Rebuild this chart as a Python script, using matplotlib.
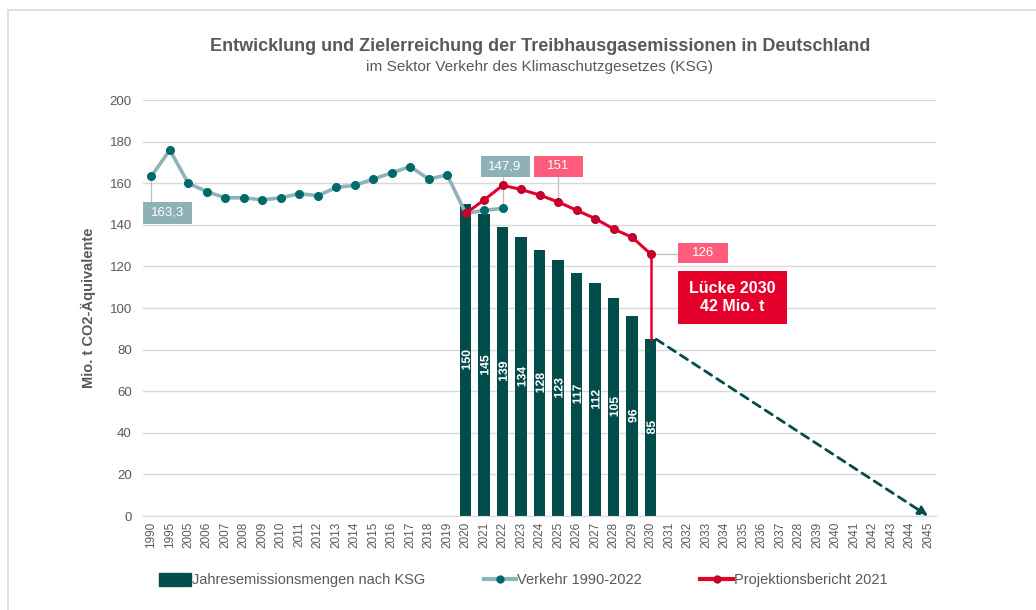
import matplotlib
matplotlib.use("Agg")
import matplotlib.pyplot as plt
import matplotlib.transforms as mtrans
from matplotlib.patches import Rectangle, Patch, PathPatch
from matplotlib.lines import Line2D
from matplotlib.textpath import TextPath
from matplotlib.font_manager import FontProperties

plt.rcParams['font.family'] = ['Liberation Sans', 'DejaVu Sans']

# ---- data ----
categories = ["1990", "1995"] + [str(y) for y in range(2005, 2038)] + ["2028"] + [str(y) for y in range(2039, 2046)]
bar_years = ["2020", "2021", "2022", "2023", "2024", "2025", "2026", "2027", "2028", "2029", "2030"]
bar_values = [150, 145, 139, 134, 128, 123, 117, 112, 105, 96, 85]
verkehr_years = ["1990", "1995", "2005", "2006", "2007", "2008", "2009", "2010", "2011", "2012",
                 "2013", "2014", "2015", "2016", "2017", "2018", "2019", "2020", "2021", "2022"]
verkehr_values = [163.3, 176, 160, 156, 153, 153, 152, 153, 155, 154,
                  158, 159, 162, 165, 168, 162, 164, 145.5, 147, 147.9]
proj_years = ["2020", "2021", "2022", "2023", "2024", "2025", "2026", "2027", "2028", "2029", "2030"]
proj_values = [145.5, 152, 159, 157, 154.3, 151, 147, 143, 138, 134, 126]
target_2045 = 0

def idx(year):
    return categories.index(year)

bar_x = list(range(idx("2020"), idx("2020") + len(bar_years)))
verk_x = [idx(y) for y in verkehr_years[:17]] + list(range(idx("2020"), idx("2020") + 3))
proj_x = list(range(idx("2020"), idx("2020") + len(proj_years)))
x2045 = len(categories) - 1

BAR = "#034c4c"
VLINE = "#8fb3b8"
VMARK = "#006a6a"
RED = "#e4002b"
RMARK = "#c4002c"
PINK = "#ff5c7c"
BOXTEAL = "#8eb1b6"
GRAY = "#595959"
GRID = "#d9d9d9"

fig = plt.figure(figsize=(10.36, 6.10), dpi=100)
ax = fig.add_axes([0.138, 0.154, 0.765, 0.682])

ax.set_xlim(-0.45, 42.4)
ax.set_ylim(0, 200)
ax.set_yticks(range(0, 201, 20))
ax.yaxis.grid(True, color=GRID, lw=1)
ax.set_axisbelow(True)
for s in ["top", "right", "left"]:
    ax.spines[s].set_visible(False)
ax.spines["bottom"].set_color(GRID)
ax.tick_params(axis="both", length=0, colors=GRAY)
ax.tick_params(axis="y", labelsize=9.5, pad=8)
ax.set_xticks(range(len(categories)))
ax.set_xticklabels(categories, rotation=90, fontsize=8.5)
ax.tick_params(axis="x", pad=4)

# bars
ax.bar(bar_x, bar_values, width=0.62, color=BAR, zorder=2)

# bar value labels as vector glyph paths (crisp rotated text)
label_prop = FontProperties(family="Liberation Sans", weight="bold")
for x, v in zip(bar_x, bar_values):
    tp = TextPath((0, 0), str(v), size=8.8, prop=label_prop)
    ext = tp.get_extents()
    cx, cy = (ext.x0 + ext.x1) / 2, (ext.y0 + ext.y1) / 2
    tr = (mtrans.Affine2D().translate(-cx, -cy).rotate_deg(90).scale(fig.dpi / 72)
          + mtrans.ScaledTranslation(x, v / 2, ax.transData))
    ax.add_patch(PathPatch(tp, transform=tr, facecolor="white", edgecolor="none", zorder=3))

# Verkehr line
ax.plot(verk_x, verkehr_values, color=VLINE, lw=2.6, zorder=4)
ax.plot(verk_x, verkehr_values, 'o', color=VMARK, ms=5.5, zorder=5)

# Projection line + vertical drop to 2030 target
ax.plot(proj_x, proj_values, color=RED, lw=2.2, zorder=6)
ax.plot([proj_x[-1], proj_x[-1]], [proj_values[-1], bar_values[-1]], color=RED, lw=1.8, zorder=6)
ax.plot(proj_x, proj_values, 'o', color=RMARK, ms=5.5, zorder=7)

# dashed arrow to 2045
ax.annotate("", xy=(x2045, target_2045), xytext=(bar_x[-1] + 0.3, bar_values[-1]),
            arrowprops=dict(arrowstyle="-|>", color=BAR, lw=2, linestyle=(0, (3, 2.2)),
                            mutation_scale=14, shrinkA=0, shrinkB=0), zorder=3)

def box(x0, x1, y0, y1, color, text, fs=9.5, bold=False):
    ax.add_patch(Rectangle((x0, y0), x1 - x0, y1 - y0, facecolor=color, edgecolor="none",
                           zorder=8, clip_on=False))
    ax.text((x0 + x1) / 2, (y0 + y1) / 2, text, ha="center", va="center", color="white",
            fontsize=fs, fontweight="bold" if bold else "normal", zorder=9, linespacing=1.3)

# leaders
ax.plot([0, 0], [verkehr_values[0], 151], color="#bfbfbf", lw=0.9, zorder=3)
ax.plot([idx("2022"), idx("2022")], [163, verkehr_values[-1]], color="#bfbfbf", lw=0.9, zorder=3)
ax.plot([idx("2025"), idx("2025")], [163, proj_values[5]], color="#bfbfbf", lw=0.9, zorder=3)
ax.plot([proj_x[-1], 28.46], [proj_values[-1], proj_values[-1]], color="#bfbfbf", lw=0.9, zorder=3)

box(-0.43, 2.22, 140.4, 151, BOXTEAL, "163,3")
box(17.8, 20.45, 163, 173.1, BOXTEAL, "147,9")
box(20.67, 23.32, 163, 173.1, PINK, "151")
box(28.46, 31.17, 121.6, 131.25, PINK, "126")
box(28.46, 34.36, 92.3, 117.8, RED, "Lücke 2030\n42 Mio. t", fs=11.5, bold=True)

ax.set_ylabel("Mio. t CO2-Äquivalente", fontsize=10.5, fontweight="bold", color=GRAY, labelpad=10)

fig.text(0.521, 0.923, "Entwicklung und Zielerreichung der Treibhausgasemissionen in Deutschland",
         ha="center", va="center", fontsize=13, fontweight="bold", color=GRAY)
fig.text(0.521, 0.890, "im Sektor Verkehr des Klimaschutzgesetzes (KSG)",
         ha="center", va="center", fontsize=11.1, color=GRAY)

handles = [Patch(facecolor=BAR, edgecolor=BAR),
           Line2D([], [], color=VLINE, lw=3, marker="o", markerfacecolor=VMARK,
                  markeredgecolor=VMARK, ms=5),
           Line2D([], [], color=RED, lw=3, marker="o", markerfacecolor=RMARK,
                  markeredgecolor=RMARK, ms=5)]
labels = ["Jahresemissionsmengen nach KSG", "Verkehr 1990-2022", "Projektionsbericht 2021"]
leg = fig.legend(handles, labels, loc="center", bbox_to_anchor=(0.505, 0.049), ncol=3,
                 frameon=False, fontsize=10.5, handlelength=2.2, handleheight=1.0,
                 handletextpad=0.1, columnspacing=4.0)
for t in leg.get_texts():
    t.set_color(GRAY)

fig.add_artist(Rectangle((8 / 1036, -0.01), 1.05, 1 - 10 / 610 + 0.01, transform=fig.transFigure,
                         facecolor="none", edgecolor="#d9d9d9", lw=1.2))

fig.savefig("out.png", dpi=100)
